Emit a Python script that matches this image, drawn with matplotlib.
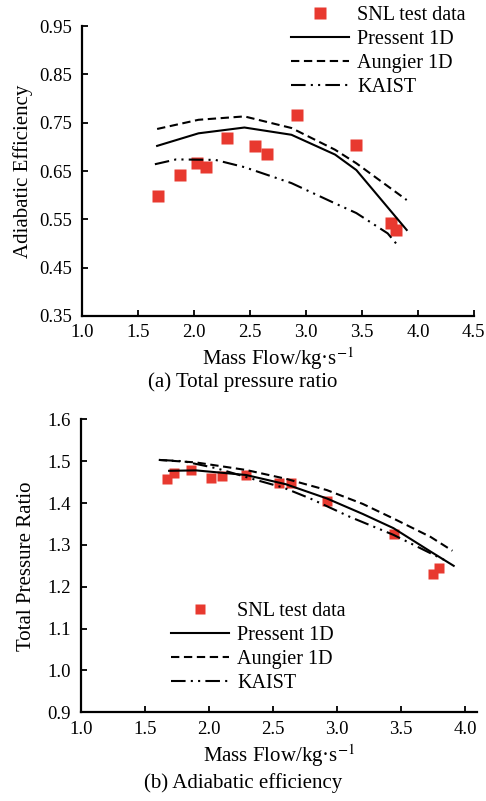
import matplotlib
matplotlib.use("Agg")
import matplotlib.pyplot as plt
from matplotlib.lines import Line2D

plt.rcParams['font.family'] = ['Liberation Serif', 'DejaVu Serif']
plt.rcParams['mathtext.fontset'] = 'stix'

RED = '#e8392f'

# ---- Panel (a): Adiabatic efficiency ----
a_test_x = [1.674, 1.876, 2.024, 2.104, 2.296, 2.547, 2.650, 2.917, 3.443, 3.760, 3.800]
a_test_y = [0.598, 0.642, 0.666, 0.659, 0.718, 0.702, 0.685, 0.765, 0.704, 0.542, 0.528]
a_pres_x = [1.67, 2.04, 2.45, 2.87, 3.26, 3.45, 3.90]
a_pres_y = [0.702, 0.728, 0.740, 0.725, 0.684, 0.652, 0.528]
a_aung_x = [1.67, 2.04, 2.45, 2.87, 3.26, 3.45, 3.90]
a_aung_y = [0.737, 0.756, 0.763, 0.739, 0.694, 0.666, 0.590]
a_kaist_x = [1.65, 1.84, 2.19, 2.45, 2.87, 3.26, 3.45, 3.73, 3.82]
a_kaist_y = [0.664, 0.674, 0.673, 0.658, 0.625, 0.583, 0.563, 0.521, 0.496]
a_xticks = [1.0, 1.5, 2.0, 2.5, 3.0, 3.5, 4.0, 4.5]
a_yticks = [0.35, 0.45, 0.55, 0.65, 0.75, 0.85, 0.95]

# ---- Panel (b): Total pressure ratio ----
b_test_x = [1.670, 1.725, 1.861, 2.017, 2.101, 2.286, 2.544, 2.644, 2.918, 3.444, 3.752, 3.799]
b_test_y = [1.457, 1.471, 1.480, 1.461, 1.465, 1.468, 1.447, 1.449, 1.405, 1.326, 1.230, 1.244]
b_pres_x = [1.69, 1.90, 2.29, 2.60, 2.92, 3.20, 3.44, 3.73, 3.91]
b_pres_y = [1.477, 1.478, 1.467, 1.445, 1.411, 1.374, 1.340, 1.284, 1.250]
b_aung_x = [1.61, 1.90, 2.29, 2.60, 2.92, 3.20, 3.44, 3.73, 3.90]
b_aung_y = [1.503, 1.497, 1.479, 1.458, 1.431, 1.398, 1.363, 1.319, 1.286]
b_kaist_x = [1.61, 1.80, 2.06, 2.37, 2.58, 2.79, 3.10, 3.44, 3.73, 3.85]
b_kaist_y = [1.503, 1.500, 1.483, 1.455, 1.437, 1.411, 1.367, 1.324, 1.280, 1.262]
b_xticks = [1.0, 1.5, 2.0, 2.5, 3.0, 3.5, 4.0]
b_yticks = [0.9, 1.0, 1.1, 1.2, 1.3, 1.4, 1.5, 1.6]

labels = ['SNL test data', 'Pressent 1D', 'Aungier 1D', 'KAIST']

fig = plt.figure(figsize=(4.86, 8.01), dpi=100)

DASH = (0, (4, 2.2))
DASHDOT = (0, (7, 2.5, 1, 2.5, 1, 2.5))
LW = 1.5


def style(ax):
    for s in ['top', 'right']:
        ax.spines[s].set_visible(False)
    for s in ['left', 'bottom']:
        ax.spines[s].set_linewidth(1.6)
    ax.tick_params(direction='in', length=4, width=1.3, labelsize=13.5)
    ax.tick_params(axis='y', pad=7)
    ax.tick_params(axis='x', pad=6)


# Panel a
ax1 = fig.add_axes([0.169, 0.6055, 0.806, 0.362])
ax1.plot(a_test_x, a_test_y, 's', color=RED, ms=8.5, mec='none', clip_on=False)
ax1.plot(a_pres_x, a_pres_y, '-', color='black', lw=LW)
ax1.plot(a_aung_x, a_aung_y, color='black', lw=LW, linestyle=DASH)
ax1.plot(a_kaist_x, a_kaist_y, color='black', lw=LW, linestyle=DASHDOT)
ax1.set_xlim(1.0, 4.5)
ax1.set_ylim(0.35, 0.95)
ax1.set_xticks(a_xticks)
ax1.set_xticklabels([f'{v:.1f}' for v in a_xticks])
ax1.set_yticks(a_yticks)
ax1.set_yticklabels([f'{v:.2f}' for v in a_yticks])
style(ax1)
ax1.set_xlabel('Mass Flow/kg·s$^{-1}$', fontsize=15, labelpad=3)
ax1.set_ylabel('Adiabatic Efficiency', fontsize=15, labelpad=5)
h1 = [Line2D([], [], marker='s', color=RED, ls='none', ms=8.5, mec='none'),
      Line2D([], [], color='black', lw=LW),
      Line2D([], [], color='black', lw=LW, linestyle=DASH),
      Line2D([], [], color='black', lw=LW, linestyle=DASHDOT)]
leg1 = ax1.legend(h1, labels, loc='upper left', bbox_to_anchor=(0.532, 1.07),
                  frameon=False, fontsize=14.5, handlelength=2.9, handletextpad=0.4,
                  labelspacing=0.25, borderpad=0.0, borderaxespad=0.0)
fig.text(0.5, 0.523, '(a) Total pressure ratio', ha='center', va='center', fontsize=15)

# Panel b
ax2 = fig.add_axes([0.166, 0.1107, 0.815, 0.3658])
ax2.plot(b_test_x, b_test_y, 's', color=RED, ms=7.5, mec='none', clip_on=False)
ax2.plot(b_pres_x, b_pres_y, '-', color='black', lw=LW)
ax2.plot(b_aung_x, b_aung_y, color='black', lw=LW, linestyle=DASH)
ax2.plot(b_kaist_x, b_kaist_y, color='black', lw=LW, linestyle=DASHDOT)
ax2.set_xlim(1.0, 4.09)
ax2.set_ylim(0.9, 1.6)
ax2.set_xticks(b_xticks)
ax2.set_xticklabels([f'{v:.1f}' for v in b_xticks])
ax2.set_yticks(b_yticks)
ax2.set_yticklabels([f'{v:.1f}' for v in b_yticks])
style(ax2)
ax2.set_xlabel('Mass Flow/kg·s$^{-1}$', fontsize=15, labelpad=3)
ax2.set_ylabel('Total Pressure Ratio', fontsize=15, labelpad=8)
h2 = [Line2D([], [], marker='s', color=RED, ls='none', ms=7.5, mec='none'),
      Line2D([], [], color='black', lw=LW),
      Line2D([], [], color='black', lw=LW, linestyle=DASH),
      Line2D([], [], color='black', lw=LW, linestyle=DASHDOT)]
leg2 = ax2.legend(h2, labels, loc='upper left', bbox_to_anchor=(0.227, 0.378),
                  frameon=False, fontsize=14.5, handlelength=2.9, handletextpad=0.4,
                  labelspacing=0.25, borderpad=0.0, borderaxespad=0.0)
fig.text(0.5, 0.0225, '(b) Adiabatic efficiency', ha='center', va='center', fontsize=15)

fig.savefig('out.png', dpi=100)
